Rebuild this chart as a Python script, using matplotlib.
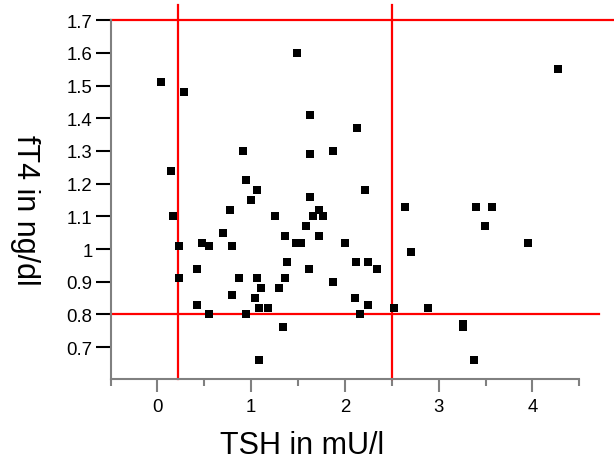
import matplotlib
matplotlib.use("Agg")
import matplotlib.pyplot as plt
from matplotlib.ticker import MultipleLocator

plt.rcParams["font.family"] = ["Liberation Sans", "DejaVu Sans"]

# TSH (mU/l) and fT4 (ng/dl)
tsh = [1.49, 0.04, 0.28, 1.63, 2.13, 0.91, 1.63, 1.87, 0.14, 0.95,
       1.06, 1.00, 1.63, 4.27, 2.21, 0.77, 0.17, 1.25, 1.66, 1.72,
       1.77, 1.59, 0.70, 1.36, 1.72, 2.00, 1.48, 1.53, 0.48, 0.55,
       0.23, 0.80, 1.38, 2.12, 0.42, 1.62, 0.23, 0.87, 1.06, 1.36,
       1.10, 1.30, 1.87, 0.80, 1.04, 2.11, 0.42, 1.08, 1.18, 0.55,
       0.95, 2.16, 1.34, 1.08, 2.64, 3.40, 3.57, 3.49, 3.95, 2.70,
       2.25, 2.34, 2.25, 2.52, 2.89, 3.26, 3.26, 3.38]
ft4 = [1.60, 1.51, 1.48, 1.41, 1.37, 1.30, 1.29, 1.30, 1.24, 1.21,
       1.18, 1.15, 1.16, 1.55, 1.18, 1.12, 1.10, 1.10, 1.10, 1.12,
       1.10, 1.07, 1.05, 1.04, 1.04, 1.02, 1.02, 1.02, 1.02, 1.01,
       1.01, 1.01, 0.96, 0.96, 0.94, 0.94, 0.91, 0.91, 0.91, 0.91,
       0.88, 0.88, 0.90, 0.86, 0.85, 0.85, 0.83, 0.82, 0.82, 0.80,
       0.80, 0.80, 0.76, 0.66, 1.13, 1.13, 1.13, 1.07, 1.02, 0.99,
       0.96, 0.94, 0.83, 0.82, 0.82, 0.77, 0.76, 0.66]

# reference limits
tsh_low, tsh_high = 0.22, 2.5
ft4_low, ft4_high = 0.8, 1.7

xticks = [0, 1, 2, 3, 4]
yticks = [0.7, 0.8, 0.9, 1.0, 1.1, 1.2, 1.3, 1.4, 1.5, 1.6, 1.7]
ytick_labels = ["0.7", "0.8", "0.9", "1", "1.1", "1.2", "1.3", "1.4", "1.5", "1.6", "1.7"]


def main() -> None:
    fig = plt.figure(figsize=(6.14, 4.64), dpi=100)
    ax = fig.add_axes([0.18, 0.181, 0.7635, 0.805])

    ax.plot(tsh, ft4, linestyle="none", marker="s", ms=6, mfc="black",
            mec="black", mew=0, zorder=3)

    red = dict(color="#ff0000", lw=1.6, clip_on=False, zorder=2)
    ax.axvline(tsh_low, **red)
    ax.axvline(tsh_high, **red)
    ax.plot([-0.5, 5.2], [ft4_high, ft4_high], **red)
    ax.plot([-0.5, 4.71], [ft4_low, ft4_low], **red)

    ax.set_xlim(-0.5, 4.5)
    ax.set_ylim(0.6024, 1.745)

    for side in ("top", "right"):
        ax.spines[side].set_visible(False)
    ax.spines["left"].set_bounds(0.6024, 1.7)
    ax.spines["left"].set_color("#808080")
    ax.spines["bottom"].set_color("#808080")
    ax.spines["left"].set_linewidth(1.5)
    ax.spines["bottom"].set_linewidth(1.5)

    ax.set_xticks(xticks)
    ax.xaxis.set_minor_locator(MultipleLocator(0.5))
    ax.set_yticks(yticks)
    ax.set_yticklabels(ytick_labels)

    ax.tick_params(axis="x", which="major", direction="out", length=9.5,
                   width=1.5, color="#808080", labelsize=13.4, pad=4)
    ax.tick_params(axis="x", which="minor", direction="out", length=5,
                   width=1.5, color="#808080")
    ax.tick_params(axis="y", which="major", direction="out", length=11,
                   width=1.5, color="black", labelsize=13.4, pad=2)

    ax.set_xlabel("TSH in mU/l", fontsize=22)
    ax.xaxis.set_label_coords(0.4096, -0.1365)
    ax.set_ylabel("fT4 in ng/dl", fontsize=22, rotation=270,
                  va="center", ha="center", rotation_mode="default")
    ax.yaxis.set_label_coords(-0.182, 0.455)

    fig.savefig("out.png", dpi=100)


if __name__ == "__main__":
    main()
